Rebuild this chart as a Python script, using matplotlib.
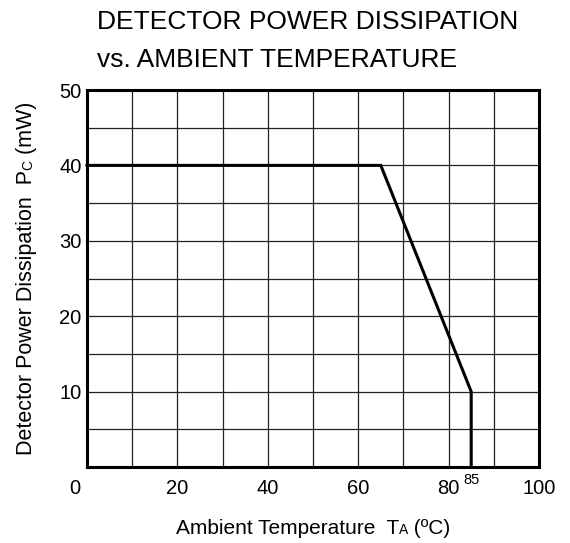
import matplotlib
matplotlib.use("Agg")
import matplotlib.pyplot as plt
from matplotlib.transforms import ScaledTranslation

plt.rcParams.update({
    "font.family": ["Liberation Sans", "DejaVu Sans"],
    "figure.dpi": 100,
})

# Derating curve data
temp_c = [0, 65, 85, 85]
power_mw = [40, 40, 10, 0]

x_major = [0, 20, 40, 60, 80, 100]
x_minor = [10, 30, 50, 70, 90]
y_major = [10, 20, 30, 40, 50]
y_minor = [5, 15, 25, 35, 45]
y_labels = ["10", "20", "30", "40", "50"]

title_lines = ["DETECTOR POWER DISSIPATION", "vs. AMBIENT TEMPERATURE"]
xlabel_parts = [("Ambient Temperature  T", 15), ("A", 10), (" (ºC)", 15)]
ylabel_parts = [("Detector Power Dissipation  P", 15.5), ("C", 10), (" (mW)", 15.5)]

W, H = 570, 543
fig = plt.figure(figsize=(W / 100, H / 100))
ax = fig.add_axes([87 / W, 1 - 467 / H, (539 - 87) / W, (467 - 90) / H])

ax.set_xlim(0, 100)
ax.set_ylim(0, 50)
ax.set_xticks(x_major)
ax.set_xticks(x_minor, minor=True)
ax.set_yticks(y_major)
ax.set_yticklabels(y_labels)
ax.set_yticks(y_minor, minor=True)
ax.grid(True, which="both", color="#222222", linewidth=0.9)
ax.set_axisbelow(True)
ax.tick_params(which="both", length=0, labelsize=14.5)
ax.tick_params(axis="x", pad=9)
ax.tick_params(axis="y", pad=4)
for sp in ax.spines.values():
    sp.set_linewidth(2.2)

# the "0" label sits left of the corner in the original
lbl0 = ax.get_xticklabels()[0]
lbl0.set_transform(lbl0.get_transform() + ScaledTranslation(-0.12, 0, fig.dpi_scale_trans))

ax.plot(temp_c, power_mw, color="black", linewidth=2.2, solid_joinstyle="miter",
        clip_on=False, zorder=3)

# small "85" marker label
ax.annotate("85", xy=(85, 0), xycoords="data", xytext=(0, -4.5), textcoords="offset points",
            ha="center", va="top", fontsize=10.5)

# title
fig.text(97 / W, 1 - 29 / H, title_lines[0], fontsize=19, ha="left", va="baseline")
fig.text(97 / W, 1 - 67 / H, title_lines[1], fontsize=19, ha="left", va="baseline")

renderer = fig.canvas.get_renderer()


def measure(parts):
    widths = []
    for s, fs in parts:
        t = fig.text(0, 0, s, fontsize=fs)
        widths.append(t.get_window_extent(renderer).width)
        t.remove()
    return widths


def draw_xlabel(parts, center, base):
    widths = measure(parts)
    pos = center - sum(widths) / 2
    for (s, fs), w in zip(parts, widths):
        fig.text(pos / W, 1 - base / H, s, fontsize=fs, ha="left", va="baseline")
        pos += w


def draw_ylabel(parts, center, base):
    widths = measure(parts)
    pos = center + sum(widths) / 2  # pixel y from top, start at bottom
    for (s, fs), w in zip(parts, widths):
        fig.text(base / W, 1 - pos / H, s, fontsize=fs, rotation=90,
                 rotation_mode="anchor", ha="left", va="baseline")
        pos -= w


draw_xlabel(xlabel_parts, (87 + 539) / 2, 534)
draw_ylabel(ylabel_parts, (90 + 467) / 2, 32)

fig.savefig("out.png", dpi=100)
